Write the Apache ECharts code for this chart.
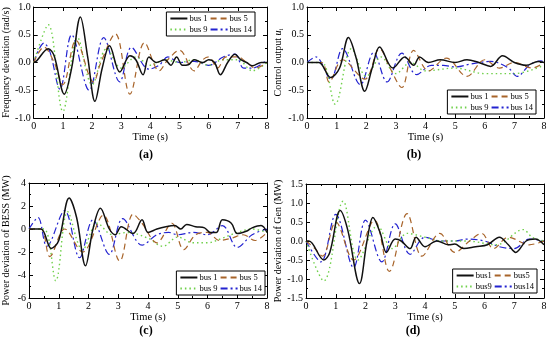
<!DOCTYPE html>
<html><head><meta charset="utf-8">
<script src="https://cdn.jsdelivr.net/npm/echarts@6/dist/echarts.min.js"></script>
<style>html,body{margin:0;padding:0;background:#fff}#c{width:550px;height:341px}</style>
</head><body><div id="c"></div>
<script>
// ---------- data (time s, value) ----------
const seriesNames = ['bus 1', 'bus 5', 'bus 9', 'bus 14'];
const seriesNamesD = ['bus1', 'bus5', 'bus9', 'bus14'];
const timeTicks = [0, 1, 2, 3, 4, 5, 6, 7, 8];

// (a) Frequency deviation (rad/s)
const freqBus1 = [[0,0],[0.1,0.03],[0.5,0.25],[0.7,0.12],[1.05,-0.57],[1.3,-0.1],[1.6,0.82],[1.85,0.1],[2.1,-0.7],[2.35,-0.1],[2.6,0.3],[2.95,-0.17],[3.3,0.12],[3.5,0.05],[3.75,-0.22],[3.95,0.1],[4.2,0.0],[4.5,0.05],[4.7,-0.05],[4.9,0.1],[5.1,-0.05],[5.3,-0.04],[5.5,0.05],[5.8,0.0],[6.0,0.05],[6.2,0.0],[6.4,-0.22],[6.65,0.0],[6.9,0.15],[7.1,0.05],[7.3,0.0],[7.5,-0.06],[7.8,0.0],[8,0.0]];
const freqBus5 = [[0,0],[0.35,0.28],[0.7,0.0],[1.0,-0.4],[1.45,0.4],[2.05,-0.35],[2.3,0.0],[2.8,0.52],[3.3,-0.57],[3.8,0.36],[4.3,-0.15],[4.6,0.05],[5.0,0.22],[5.5,-0.15],[5.8,0.05],[6.0,0.1],[6.3,-0.1],[6.6,0.1],[7.0,0.1],[7.3,0.0],[7.6,-0.1],[8,0.0]];
const freqBus9 = [[0,0],[0.5,0.68],[1.0,-0.88],[1.5,0.45],[2.0,-0.4],[2.5,0.25],[3.0,-0.1],[3.5,0.1],[4.0,-0.05],[4.5,0.05],[5.0,0.0],[5.5,0.05],[6.0,-0.05],[6.5,0.05],[7.0,0.05],[7.5,-0.15],[8,0.0]];
const freqBus14 = [[0,0],[0.35,0.35],[0.55,0.2],[0.9,-0.48],[1.3,0.5],[1.9,-0.5],[2.4,0.45],[2.95,-0.35],[3.35,0.27],[3.95,-0.12],[4.3,-0.05],[4.6,0.1],[5.0,0.0],[5.5,0.02],[6.0,-0.05],[6.5,0.1],[6.9,0.15],[7.2,-0.1],[7.5,-0.1],[8,0.05]];

// (b) Control output u_i
const ctrlBus1 = [[0,0],[0.4,0.0],[0.8,-0.27],[1.1,-0.1],[1.4,0.45],[1.65,0.1],[1.95,-0.52],[2.2,-0.1],[2.45,0.28],[2.9,-0.1],[3.3,0.1],[3.6,-0.05],[3.8,0.1],[4.1,0.0],[4.5,0.05],[5.0,0.0],[5.4,0.05],[5.8,0.0],[6.2,-0.07],[6.6,0.12],[7.0,0.0],[7.4,-0.05],[7.8,0.02],[8,0.0]];
const ctrlBus5 = [[0,0],[0.5,0.0],[0.75,-0.35],[1.2,0.05],[1.95,-0.3],[2.45,0.25],[2.8,-0.1],[3.2,-0.45],[3.6,0.22],[4.1,-0.15],[4.7,0.08],[5.4,-0.25],[6.0,0.05],[6.5,-0.1],[7.0,0.0],[7.6,-0.1],[8,0.0]];
const ctrlBus9 = [[0,0],[0.5,0.0],[0.95,-0.75],[1.5,0.25],[2.0,-0.25],[2.5,0.1],[3.0,-0.2],[3.5,0.0],[4.0,-0.15],[5.0,-0.1],[6.0,-0.2],[7.0,-0.2],[8,-0.05]];
const ctrlBus14 = [[0,0],[0.3,0.1],[0.8,-0.3],[1.2,0.25],[1.8,-0.4],[2.25,0.18],[2.7,-0.35],[3.2,0.17],[3.7,-0.22],[4.2,-0.05],[4.6,-0.05],[5.0,-0.08],[5.5,-0.03],[6.2,0.02],[6.8,-0.1],[7.1,-0.25],[7.5,-0.05],[7.9,0.03],[8,0.0]];

// (c) Power deviation of BESS (MW)
const bessBus1 = [[0,0],[0.4,0.0],[0.75,-1.7],[1.0,-1.0],[1.35,2.7],[1.6,1.0],[1.9,-3.2],[2.15,0.0],[2.4,1.8],[2.7,0.0],[2.9,-0.5],[3.1,0.2],[3.5,-0.4],[3.8,0.8],[4.0,-0.3],[4.3,0.0],[4.6,0.2],[4.9,0.3],[5.1,0.0],[5.3,0.4],[5.6,0.2],[5.9,0.1],[6.1,-0.3],[6.3,-0.3],[6.5,0.8],[6.8,0.5],[7.0,-0.4],[7.3,-0.2],[7.5,0.1],[7.8,0.3],[8,-0.3]];
const bessBus5 = [[0,0],[0.4,0.0],[0.7,-2.4],[1.2,0.0],[1.8,-2.0],[2.5,1.2],[3.05,-2.8],[3.5,1.3],[3.8,0.5],[4.3,-1.2],[4.8,0.5],[5.2,-1.8],[5.6,-0.5],[6.0,-0.3],[6.4,-1.0],[6.8,-0.8],[7.2,-0.5],[7.6,-1.0],[8,-0.3]];
const bessBus9 = [[0,0],[0.5,0.0],[0.9,-4.5],[1.3,1.5],[1.8,-1.8],[2.3,0.5],[2.8,-0.5],[3.3,-0.3],[4.0,-0.8],[4.5,-1.5],[5.0,-0.7],[5.5,-1.2],[6.0,-1.2],[6.5,-0.8],[7.0,-0.3],[7.5,0.0],[8,-0.3]];
const bessBus14 = [[0,0],[0.3,1.0],[0.6,-1.5],[1.2,1.6],[1.7,-2.5],[2.15,0.8],[2.7,-2.2],[3.15,0.9],[3.8,-1.4],[4.3,-0.5],[4.7,-0.3],[5.0,-0.5],[5.5,-0.3],[6.0,-0.5],[6.5,0.3],[7.0,-1.6],[7.5,-0.5],[8,0.0]];

// (d) Power deviation of Gen (MW)
const genBus1 = [[0,0],[0.1,0.0],[0.6,-0.5],[0.8,-0.3],[1.15,0.8],[1.4,0.3],[1.8,-1.12],[2.05,0.0],[2.25,0.62],[2.5,0.2],[2.7,-0.3],[3.0,0.05],[3.2,0.0],[3.5,-0.2],[3.7,0.1],[4.0,-0.15],[4.4,0.0],[4.8,-0.1],[5.0,-0.08],[5.3,-0.2],[5.7,-0.15],[6.1,-0.1],[6.5,0.1],[6.8,-0.1],[7.05,-0.3],[7.4,0.0],[7.7,0.05],[8,-0.1]];
const genBus5 = [[0,0],[0.3,-0.2],[0.55,-0.4],[1.0,0.5],[1.6,-0.5],[2.3,0.55],[2.8,-0.8],[3.4,0.72],[3.9,-0.4],[4.5,0.2],[5.0,-0.3],[5.5,0.0],[5.9,0.2],[6.3,-0.2],[6.8,0.1],[7.5,-0.1],[8,0.0]];
const genBus9 = [[0,0],[0.6,-1.05],[1.25,1.05],[1.75,-0.5],[2.4,0.4],[2.9,-0.2],[3.4,0.2],[4.0,0.1],[4.6,0.0],[5.4,0.0],[6.4,-0.1],[7.3,0.3],[7.6,0.1],[8,0.0]];
const genBus14 = [[0,0],[0.5,-0.55],[1.0,0.7],[1.6,-0.7],[2.0,0.55],[2.55,-0.55],[3.0,0.45],[3.5,-0.35],[4.0,0.1],[4.5,0.0],[5.0,0.0],[5.4,0.05],[6.0,0.0],[6.5,-0.15],[7.0,-0.2],[7.5,0.05],[8,0.0]];

// ---------- build chart ----------
const FONT = 'Liberation Serif';
const colors = ['#111111', '#a8642a', '#6fd04a', '#2323d0'];
const dashes = ['solid', [6, 4], [1.5, 3], [7, 3, 2, 3]];
const widths = [1.5, 1.2, 1.4, 1.2];

const grids = [
  { left: 29, top: 7, width: 238, height: 111 },
  { left: 307, top: 7, width: 237, height: 111 },
  { left: 29, top: 183, width: 238, height: 115 },
  { left: 306, top: 184, width: 238, height: 114 }
];
const yCfg = [
  { min: -1, max: 1, interval: 0.5, dec: 1, name: 'Frequency deviation (rad/s)' },
  { min: -1, max: 1, interval: 0.5, dec: 1, name: 'Control output {u|u}{s|i}' },
  { min: -6, max: 4, interval: 2, dec: 0, name: 'Power deviation of BESS (MW)' },
  { min: -1.5, max: 1.5, interval: 0.5, dec: 1, name: 'Power deviation of Gen (MW)' }
];
const panelData = [
  [freqBus1, freqBus5, freqBus9, freqBus14],
  [ctrlBus1, ctrlBus5, ctrlBus9, ctrlBus14],
  [bessBus1, bessBus5, bessBus9, bessBus14],
  [genBus1, genBus5, genBus9, genBus14]
];
const legendPos = [
  { right: 295, top: 12 },
  { right: 14, top: 90 },
  { right: 285, top: 271 },
  { right: 13, top: 269 }
];
const panelLabels = [
  { t: '(a)', x: 146, y: 155 },
  { t: '(b)', x: 414, y: 155 },
  { t: '(c)', x: 146, y: 331 },
  { t: '(d)', x: 413, y: 331 }
];

const xAxes = [], yAxes = [], series = [], legends = [];
const axisLine = { onZero: false, lineStyle: { color: '#000', width: 1 } };
const tick = { inside: true, length: 4, lineStyle: { color: '#000' } };
const minor = { show: true, splitNumber: 2, length: 2, lineStyle: { color: '#000' } };
const lblStyle = { color: '#000', fontFamily: FONT, fontSize: 10 };

grids.forEach((g, i) => {
  const yc = yCfg[i];
  xAxes.push({
    type: 'value', gridIndex: i, position: 'bottom', min: timeTicks[0], max: timeTicks[timeTicks.length - 1], interval: 1,
    axisLine, axisTick: tick, minorTick: minor, splitLine: { show: false },
    axisLabel: Object.assign({ margin: 3 }, lblStyle),
    name: 'Time (s)', nameLocation: 'middle', nameGap: 11,
    nameTextStyle: { color: '#000', fontFamily: FONT, fontSize: 10.5 }
  });
  xAxes.push({
    type: 'value', gridIndex: i, position: 'top', min: 0, max: 8, interval: 1,
    axisLine, axisTick: tick, minorTick: minor, splitLine: { show: false },
    axisLabel: { show: false }
  });
  yAxes.push({
    type: 'value', gridIndex: i, position: 'left', min: yc.min, max: yc.max, interval: yc.interval,
    axisLine, axisTick: tick, minorTick: minor, splitLine: { show: false },
    axisLabel: Object.assign({ margin: 3, formatter: v => v.toFixed(yc.dec) }, lblStyle),
    name: yc.name, nameLocation: 'middle', nameGap: 18,
    nameTextStyle: {
      color: '#000', fontFamily: FONT, fontSize: 10,
      rich: {
        u: { fontFamily: FONT, fontSize: 10, fontStyle: 'italic', color: '#000' },
        s: { fontFamily: FONT, fontSize: 7, color: '#000', padding: [0, 0, -4, 0] }
      }
    }
  });
  yAxes.push({
    type: 'value', gridIndex: i, position: 'right', min: yc.min, max: yc.max, interval: yc.interval,
    axisLine, axisTick: tick, minorTick: minor, splitLine: { show: false },
    axisLabel: { show: false }
  });
  const names = i === 3 ? seriesNamesD : seriesNames;
  panelData[i].forEach((d, k) => {
    series.push({
      type: 'line', name: names[k], xAxisIndex: 2 * i, yAxisIndex: 2 * i,
      data: d, smooth: 0.35, symbol: 'none', showSymbol: false,
      lineStyle: { color: colors[k], width: widths[k], type: dashes[k] },
      itemStyle: { color: colors[k] },
      z: 10 - k
    });
  });
  legends.push(Object.assign({
    width: 110,
    orient: 'horizontal', data: names,
    itemWidth: 17, itemHeight: 8, itemGap: 2,
    padding: [2, 3, 2, 3],
    backgroundColor: '#fff', borderColor: '#000', borderWidth: 1,
    itemStyle: { opacity: 0, borderWidth: 0 },
    textStyle: { color: '#000', fontFamily: FONT, fontSize: 8.5, padding: [0, 0, 0, -3] },
    selectedMode: false
  }, legendPos[i]));
});

const chart = echarts.init(document.getElementById('c'), null, { renderer: 'canvas' });
chart.setOption({
  backgroundColor: '#fff',
  animation: false,
  grid: grids.map(g => Object.assign({ containLabel: false }, g)),
  xAxis: xAxes,
  yAxis: yAxes,
  legend: legends,
  series,
  graphic: panelLabels.map(p => ({
    type: 'text', x: p.x, y: p.y,
    style: { text: p.t, fill: '#000', font: 'bold 12px "Liberation Serif"', textAlign: 'center', textVerticalAlign: 'middle' }
  }))
});
</script>
</body></html>
